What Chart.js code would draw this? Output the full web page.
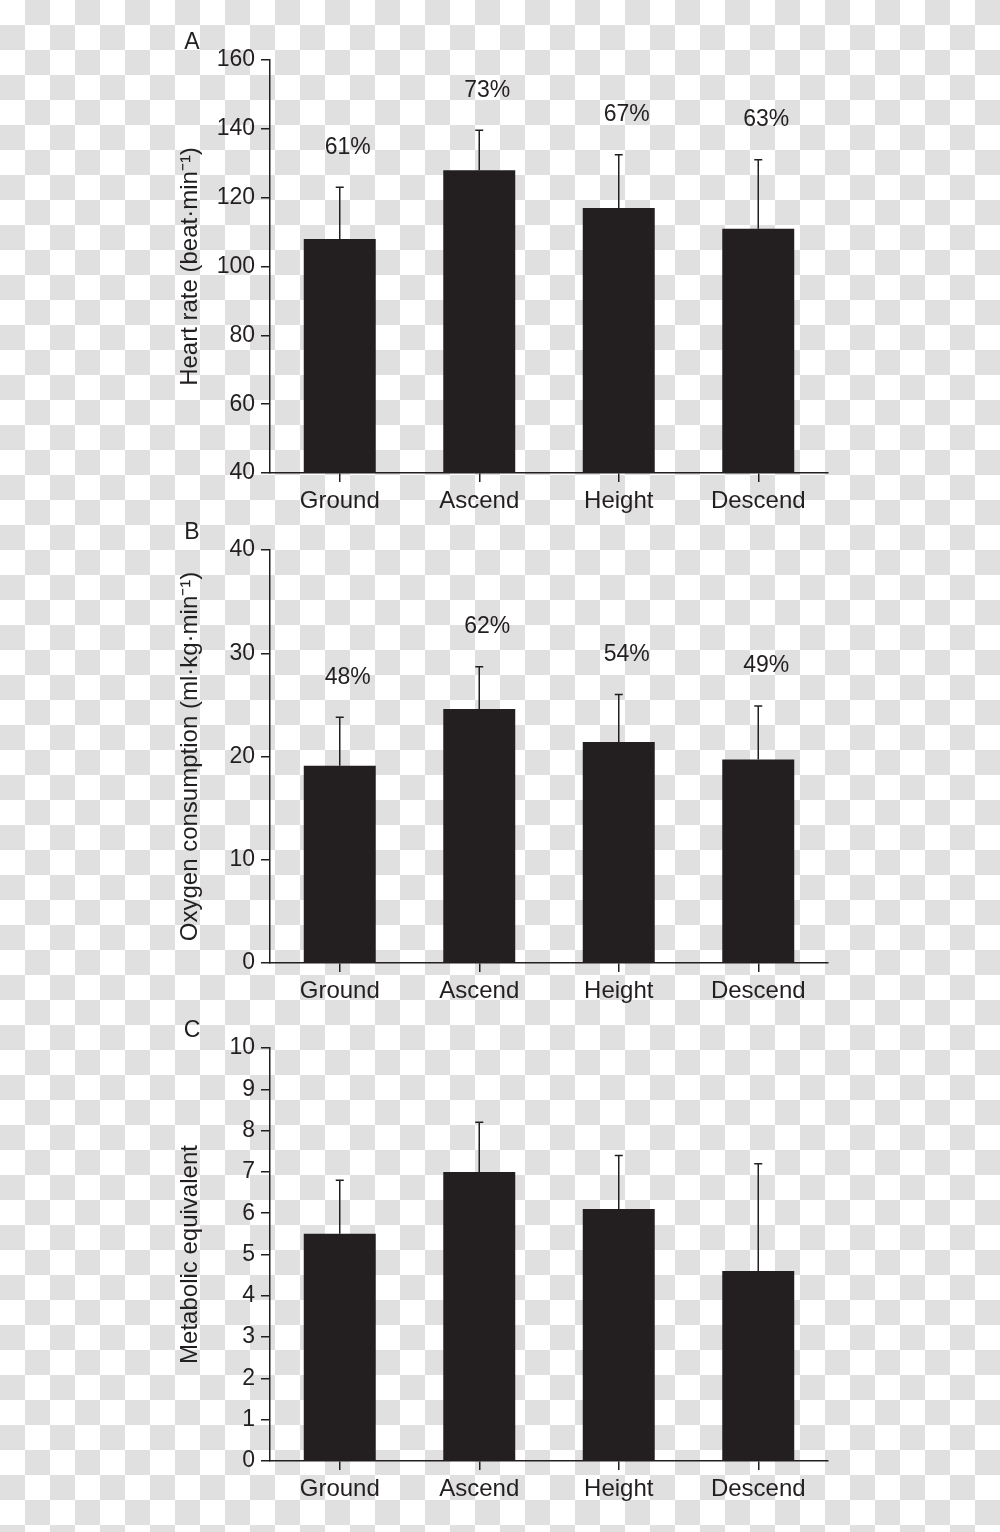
<!DOCTYPE html>
<html>
<head>
<meta charset="utf-8">
<script src="https://cdn.jsdelivr.net/npm/chart.js@4.4.1/dist/chart.umd.min.js"></script>
<style>
  html, body { margin: 0; padding: 0; }
  body {
    width: 1000px; height: 1532px; position: relative; overflow: hidden;
    background: repeating-conic-gradient(#e0e0e0 0 25%, #ffffff 0 50%) 0 0 / 50px 50px;
  }
  canvas { position: absolute; left: 0; }
</style>
</head>
<body>
<canvas id="chartA" width="1000" height="540" style="top:0px"></canvas>
<canvas id="chartB" width="1000" height="540" style="top:500px"></canvas>
<canvas id="chartC" width="1000" height="532" style="top:1000px"></canvas>
<script>
const categories = ['Ground', 'Ascend', 'Height', 'Descend'];

// A: heart rate
const hrMean = [108, 128, 117, 111];
const hrSd = [15, 11.6, 15.5, 20];
const hrPct = ['61%', '73%', '67%', '63%'];

// B: oxygen consumption
const o2Mean = [19.1, 24.6, 21.4, 19.7];
const o2Sd = [4.7, 4.1, 4.6, 5.2];
const o2Pct = ['48%', '62%', '54%', '49%'];

// C: metabolic equivalent
const metMean = [5.5, 7.0, 6.1, 4.6];
const metSd = [1.3, 1.2, 1.3, 2.6];

const INK = '#231f20';
const FONT = '"Liberation Sans", Arial, Helvetica, sans-serif';

// mean + SD whiskers, optional % labels above them, and the panel letter
const errorBars = {
  id: 'errorBars',
  afterDatasetsDraw(chart, args, opts) {
    const { ctx, chartArea } = chart;
    const yScale = chart.scales.y;
    const values = chart.data.datasets[0].data;
    const bars = chart.getDatasetMeta(0).data;
    ctx.save();
    ctx.strokeStyle = INK;
    ctx.fillStyle = INK;
    ctx.lineWidth = 1.5;
    ctx.font = `23px ${FONT}`;
    ctx.textAlign = 'center';
    ctx.textBaseline = 'middle';
    bars.forEach((bar, i) => {
      const top = yScale.getPixelForValue(values[i] + opts.sd[i]);
      ctx.beginPath();
      ctx.moveTo(bar.x, bar.y);
      ctx.lineTo(bar.x, top);
      ctx.moveTo(bar.x - 4, top);
      ctx.lineTo(bar.x + 4, top);
      ctx.stroke();
      if (opts.labels) ctx.fillText(opts.labels[i], bar.x + 8, top - 40);
    });
    ctx.fillText(opts.letter, chartArea.left - 78, chartArea.top - 17);
    ctx.restore();
  }
};

function makeChart(id, mean, sd, labels, letter, yMin, yMax, step, title, top, bottom) {
  return new Chart(document.getElementById(id), {
    type: 'bar',
    data: {
      labels: categories,
      datasets: [{
        data: mean,
        backgroundColor: INK,
        borderWidth: 0,
        categoryPercentage: 1,
        barPercentage: 0.516,
      }]
    },
    options: {
      responsive: false,
      animation: false,
      layout: { padding: { left: 172, right: 172, top: top, bottom: bottom } },
      scales: {
        x: {
          afterFit: s => { s.height = 50; },
          grid: { offset: false, drawOnChartArea: false, tickLength: 9, color: INK, lineWidth: 1.5 },
          border: { display: true, color: INK, width: 1.5 },
          ticks: { color: INK, padding: 5, font: { family: FONT, size: 24 } },
        },
        y: {
          min: yMin,
          max: yMax,
          afterFit: s => { s.width = 98; },
          grid: { drawOnChartArea: false, tickLength: 9, color: INK, lineWidth: 1.5 },
          border: { display: true, color: INK, width: 1.5 },
          ticks: { stepSize: step, color: INK, padding: 6, font: { family: FONT, size: 23 } },
          title: { display: true, text: title, color: INK, font: { family: FONT, size: 24 } },
        },
      },
      plugins: {
        legend: { display: false },
        tooltip: { enabled: false },
        errorBars: { sd: sd, labels: labels, letter: letter },
      }
    },
    plugins: [errorBars]
  });
}

makeChart('chartA', hrMean, hrSd, hrPct, 'A', 40, 160, 20, 'Heart rate (beat\u00b7min\u207b\u00b9)', 60, 17);
makeChart('chartB', o2Mean, o2Sd, o2Pct, 'B', 0, 40, 10, 'Oxygen consumption (ml\u00b7kg\u00b7min\u207b\u00b9)', 50, 27);
makeChart('chartC', metMean, metSd, null, 'C', 0, 10, 1, 'Metabolic equivalent', 48, 21);
</script>
</body>
</html>
